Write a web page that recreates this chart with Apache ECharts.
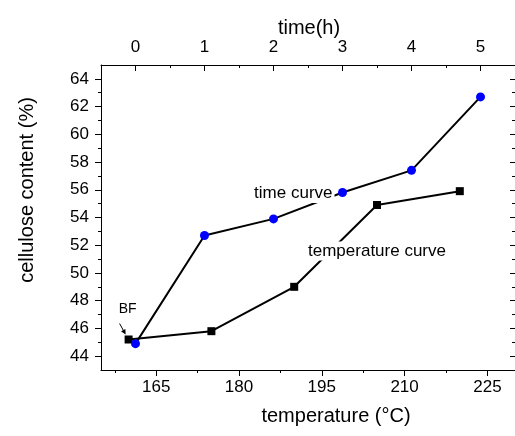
<!DOCTYPE html>
<html>
<head>
<meta charset="utf-8">
<script src="https://cdn.jsdelivr.net/npm/echarts@6/dist/echarts.min.js"></script>
<style>html,body{margin:0;padding:0;background:#fff;}#c{width:515px;height:436px;}</style>
</head>
<body>
<div id="c"></div>
<script>
// ---- data ----
var timeHours = [0, 1, 2, 3, 4, 5];
var timeCellulose = [44.9, 52.7, 53.9, 55.8, 57.4, 62.7];
var temperatures = [160, 175, 190, 205, 220];
var tempCellulose = [45.2, 45.8, 49.0, 54.9, 55.9];
var tempTickLabels = [165, 180, 195, 210, 225];
var tempMinorTicks = [157.5, 172.5, 187.5, 202.5, 217.5];
var timeTickLabels = [0, 1, 2, 3, 4, 5];
var timeMinorTicks = [-0.5, 0.5, 1.5, 2.5, 3.5, 4.5];
var yTickLabels = [44, 46, 48, 50, 52, 54, 56, 58, 60, 62, 64];
var yMinorTicks = [45, 47, 49, 51, 53, 55, 57, 59, 61, 63];

var FONT = '"Liberation Sans", Arial, Helvetica, sans-serif';
var chart = echarts.init(document.getElementById('c'), null, {renderer: 'canvas'});

function xAx(pos, labels, ticks, len, inside, showLine, showLabel, min, max) {
  return {
    type: 'value', position: pos, min: min, max: max,
    axisLine: {show: showLine, onZero: false, lineStyle: {color: '#000', width: 1}},
    axisTick: {show: true, inside: inside, length: len, customValues: ticks, lineStyle: {color: '#000', width: 1}},
    axisLabel: {show: showLabel, customValues: labels, color: '#000', fontSize: 17, fontFamily: FONT, margin: 9},
    splitLine: {show: false}
  };
}
function yAx(pos, labels, ticks, len, inside, showLine, showLabel) {
  return {
    type: 'value', position: pos, min: 43, max: 65,
    axisLine: {show: showLine, onZero: false, lineStyle: {color: '#000', width: 1}},
    axisTick: {show: true, inside: inside, length: len, customValues: ticks, lineStyle: {color: '#000', width: 1}},
    axisLabel: {show: showLabel, customValues: labels, color: '#000', fontSize: 17, fontFamily: FONT, margin: 12},
    splitLine: {show: false}
  };
}

var option = {
  backgroundColor: '#fff',
  animation: false,
  grid: {left: 101, top: 65, width: 415, height: 305, containLabel: false},
  xAxis: [
    xAx('bottom', tempTickLabels, tempTickLabels, 6, false, true, true, 155, 230),
    xAx('top', timeTickLabels, timeTickLabels, 6, true, true, true, -0.5, 5.5),
    xAx('bottom', [], tempMinorTicks, 3, false, false, false, 155, 230),
    xAx('top', [], timeMinorTicks, 3, true, false, false, -0.5, 5.5)
  ],
  yAxis: [
    yAx('left', yTickLabels, yTickLabels, 6, false, true, true),
    yAx('left', [], yMinorTicks, 3, false, false, false),
    yAx('right', [], yTickLabels, 5, true, true, false),
    yAx('right', [], yMinorTicks, 3, true, false, false)
  ],
  series: [
    {
      name: 'time curve', type: 'line', xAxisIndex: 1, yAxisIndex: 0,
      data: timeHours.map(function (t, i) { return [t, timeCellulose[i]]; }),
      symbol: 'circle', symbolSize: 9, showAllSymbol: true,
      itemStyle: {color: '#0000ff', borderWidth: 0},
      lineStyle: {color: '#000', width: 2}, z: 3
    },
    {
      name: 'temperature curve', type: 'line', xAxisIndex: 0, yAxisIndex: 0,
      data: temperatures.map(function (t, i) { return [t, tempCellulose[i]]; }),
      symbol: 'rect', symbolSize: 8, showAllSymbol: true,
      itemStyle: {color: '#000', borderWidth: 0},
      lineStyle: {color: '#000', width: 2}, z: 2
    }
  ]
};
chart.setOption(option);

// annotations positioned from data coordinates
var pBF = chart.convertToPixel({xAxisIndex: 0, yAxisIndex: 0}, [temperatures[0], tempCellulose[0]]);
var pT3 = chart.convertToPixel({xAxisIndex: 1, yAxisIndex: 0}, [timeHours[3], timeCellulose[3]]);
var pK4 = chart.convertToPixel({xAxisIndex: 0, yAxisIndex: 0}, [temperatures[3], tempCellulose[3]]);

var tail = [pBF[0] - 9, pBF[1] - 16];
var tip = [pBF[0] - 3, pBF[1] - 5];
var dx = tip[0] - tail[0], dy = tip[1] - tail[1], L = Math.sqrt(dx * dx + dy * dy);
var ux = dx / L, uy = dy / L, ah = 5, aw = 2.5;
var base = [tip[0] - ux * ah, tip[1] - uy * ah];

chart.setOption({
  graphic: [
    {type: 'text', x: 309, y: 28, style: {text: 'time(h)', fill: '#000', font: '20px ' + FONT, align: 'center', verticalAlign: 'middle'}},
    {type: 'text', x: 336, y: 416, style: {text: 'temperature (°C)', fill: '#000', font: '20px ' + FONT, align: 'center', verticalAlign: 'middle'}},
    {type: 'text', x: 27, y: 190, rotation: Math.PI / 2, style: {text: 'cellulose content (%)', fill: '#000', font: '20px ' + FONT, align: 'center', verticalAlign: 'middle'}},
    {type: 'text', x: pT3[0] - 8, y: pT3[1] + 1, z: 10, style: {text: 'time curve', fill: '#000', font: '17px ' + FONT, align: 'right', verticalAlign: 'middle', backgroundColor: '#fff', padding: [1, 2, 1, 2]}},
    {type: 'text', x: pK4[0], y: pK4[1] + 46, z: 10, style: {text: 'temperature curve', fill: '#000', font: '17px ' + FONT, align: 'center', verticalAlign: 'middle', backgroundColor: '#fff', padding: [1, 2, 1, 2]}},
    {type: 'text', x: pBF[0] - 1, y: pBF[1] - 30, z: 10, style: {text: 'BF', fill: '#000', font: '14px ' + FONT, align: 'center', verticalAlign: 'middle'}},
    {type: 'line', z: 10, shape: {x1: tail[0], y1: tail[1], x2: base[0], y2: base[1]}, style: {stroke: '#000', lineWidth: 1}},
    {type: 'polygon', z: 10, shape: {points: [tip, [base[0] - uy * aw, base[1] + ux * aw], [base[0] + uy * aw, base[1] - ux * aw]]}, style: {fill: '#000'}}
  ]
});
</script>
</body>
</html>
